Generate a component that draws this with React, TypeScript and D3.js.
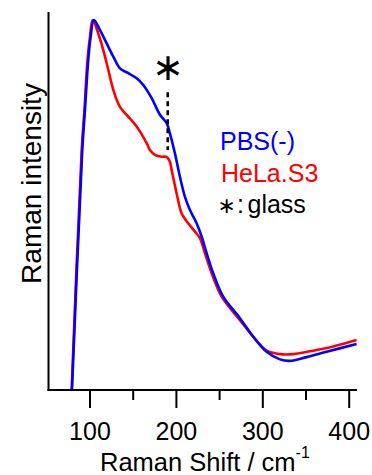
import React from "react";
import * as d3 from "d3";

const pbsX = [79, 91.1, 94.2, 98.0, 100.8, 104.6, 111.6, 119.3, 127.0, 134.7, 144.3, 154.0, 161.7, 171.4, 181.0, 188.7, 192.5, 198.3, 204.1, 209.9, 215.7, 223.4, 229.2, 235.0, 242.6, 254.2, 273.5, 288.9, 304.4, 319.8, 331.4, 350.7, 373.8, 408.5];
const pbsY = [-1, 63.5, 74.1, 87.3, 93.5, 97.9, 95.2, 91.7, 88.2, 85.1, 83.8, 82.5, 80.7, 77.2, 72.8, 70.6, 67.9, 62.6, 56.4, 51.1, 47.6, 44.1, 40.6, 36.2, 30.9, 24.7, 19.0, 14.1, 10.1, 8.1, 7.7, 8.7, 10.1, 12.2];

const helaX = [78.6, 90.4, 93.6, 97.1, 100.0, 103.1, 109.6, 115.4, 121.2, 127.0, 134.7, 144.3, 154.0, 165.6, 169.4, 175.2, 182.9, 188.7, 192.5, 194.5, 200.3, 206.1, 213.7, 221.5, 227.3, 233.0, 240.8, 252.4, 273.5, 288.9, 304.4, 319.8, 335.2, 358.3, 381.5, 408.5];
const helaY = [-1, 63.5, 74.1, 87.3, 93.5, 97.9, 94.3, 89.9, 84.7, 79.4, 74.9, 72.3, 69.7, 65.3, 63.5, 62.2, 61.7, 61.7, 60.4, 58.2, 52.0, 46.7, 44.1, 41.9, 40.1, 36.2, 30.9, 24.7, 18.5, 14.1, 10.4, 9.5, 9.5, 10.4, 11.5, 13.2];

const majorTicks = [100, 200, 300, 400];
const minorTicks = [150, 250, 350];
const glassX = 190;
const glassRange = [63.5, 78.8];

const seriesNames = ["PBS(-)", "HeLa.S3"];
const seriesColors = ["#0000ff", "#ff0000"];

export default function App() {
  const x = d3.scaleLinear().domain([52, 409]).range([48.5, 357]);
  const y = d3.scaleLinear().domain([0, 100]).range([390, 12]);
  const line = d3
    .line<[number, number]>()
    .x((d) => x(d[0]))
    .y((d) => y(d[1]))
    .curve(d3.curveCatmullRom.alpha(0.5));
  const pbs: [number, number][] = pbsX.map((v, i) => [v, pbsY[i]]);
  const hela: [number, number][] = helaX.map((v, i) => [v, helaY[i]]);
  const font = "'Liberation Sans', Arial, Helvetica, sans-serif";
  const symFont = "'DejaVu Sans', sans-serif";
  return (
    <svg
      width={372}
      height={475}
      style={{ position: "absolute", left: 0, top: 0, background: "#fff" }}
      fontFamily={font}
    >
      <defs>
        <clipPath id="plot">
          <rect x={48.5} y={0} width={320} height={390} />
        </clipPath>
      </defs>
      <g clipPath="url(#plot)" fill="none" strokeWidth={2.6} strokeLinejoin="round">
        <path d={line(hela) || ""} stroke={seriesColors[1]} />
        <path d={line(pbs) || ""} stroke={seriesColors[0]} />
      </g>
      {/* glass marker */}
      <line
        x1={x(glassX)}
        x2={x(glassX)}
        y1={y(glassRange[1])}
        y2={y(glassRange[0])}
        stroke="#000"
        strokeWidth={2.6}
        strokeDasharray="5,4"
      />
      <text
        x={x(glassX) + 0.5}
        y={66.7}
        textAnchor="middle"
        dominantBaseline="central"
        fontFamily={symFont}
        fontSize={38}
        fill="#000"
      >
        ∗
      </text>
      {/* axes */}
      <line x1={48.5} x2={48.5} y1={12} y2={391} stroke="#000" strokeWidth={2} />
      <line x1={47.5} x2={357} y1={390} y2={390} stroke="#000" strokeWidth={2} />
      {majorTicks.map((t) => (
        <g key={t}>
          <line x1={x(t)} x2={x(t)} y1={390} y2={408} stroke="#000" strokeWidth={2} />
          <text x={x(t)} y={440} textAnchor="middle" fontSize={25} fill="#000">
            {t}
          </text>
        </g>
      ))}
      {minorTicks.map((t) => (
        <line key={t} x1={x(t)} x2={x(t)} y1={390} y2={400} stroke="#000" strokeWidth={2} />
      ))}
      <text x={100} y={471} fontSize={25.5} fill="#000">
        Raman Shift / cm
        <tspan dy={-13} fontSize={16}>
          -1
        </tspan>
      </text>
      <text
        transform="translate(41,183.5) rotate(-90)"
        textAnchor="middle"
        fontSize={28}
        fill="#000"
      >
        Raman intensity
      </text>
      {/* legend */}
      <text x={220} y={150} fontSize={25} fill={seriesColors[0]}>
        {seriesNames[0]}
      </text>
      <text x={221} y={181.7} fontSize={25} fill={seriesColors[1]}>
        {seriesNames[1]}
      </text>
      <text
        x={226.7}
        y={205}
        textAnchor="middle"
        dominantBaseline="central"
        fontFamily={symFont}
        fontSize={22}
        fill="#000"
      >
        ∗
      </text>
      <text x={237} y={213.3} fontSize={25} fill="#000">
        :
      </text>
      <text x={247.5} y={213.3} fontSize={25} fill="#000">
        glass
      </text>
    </svg>
  );
}
